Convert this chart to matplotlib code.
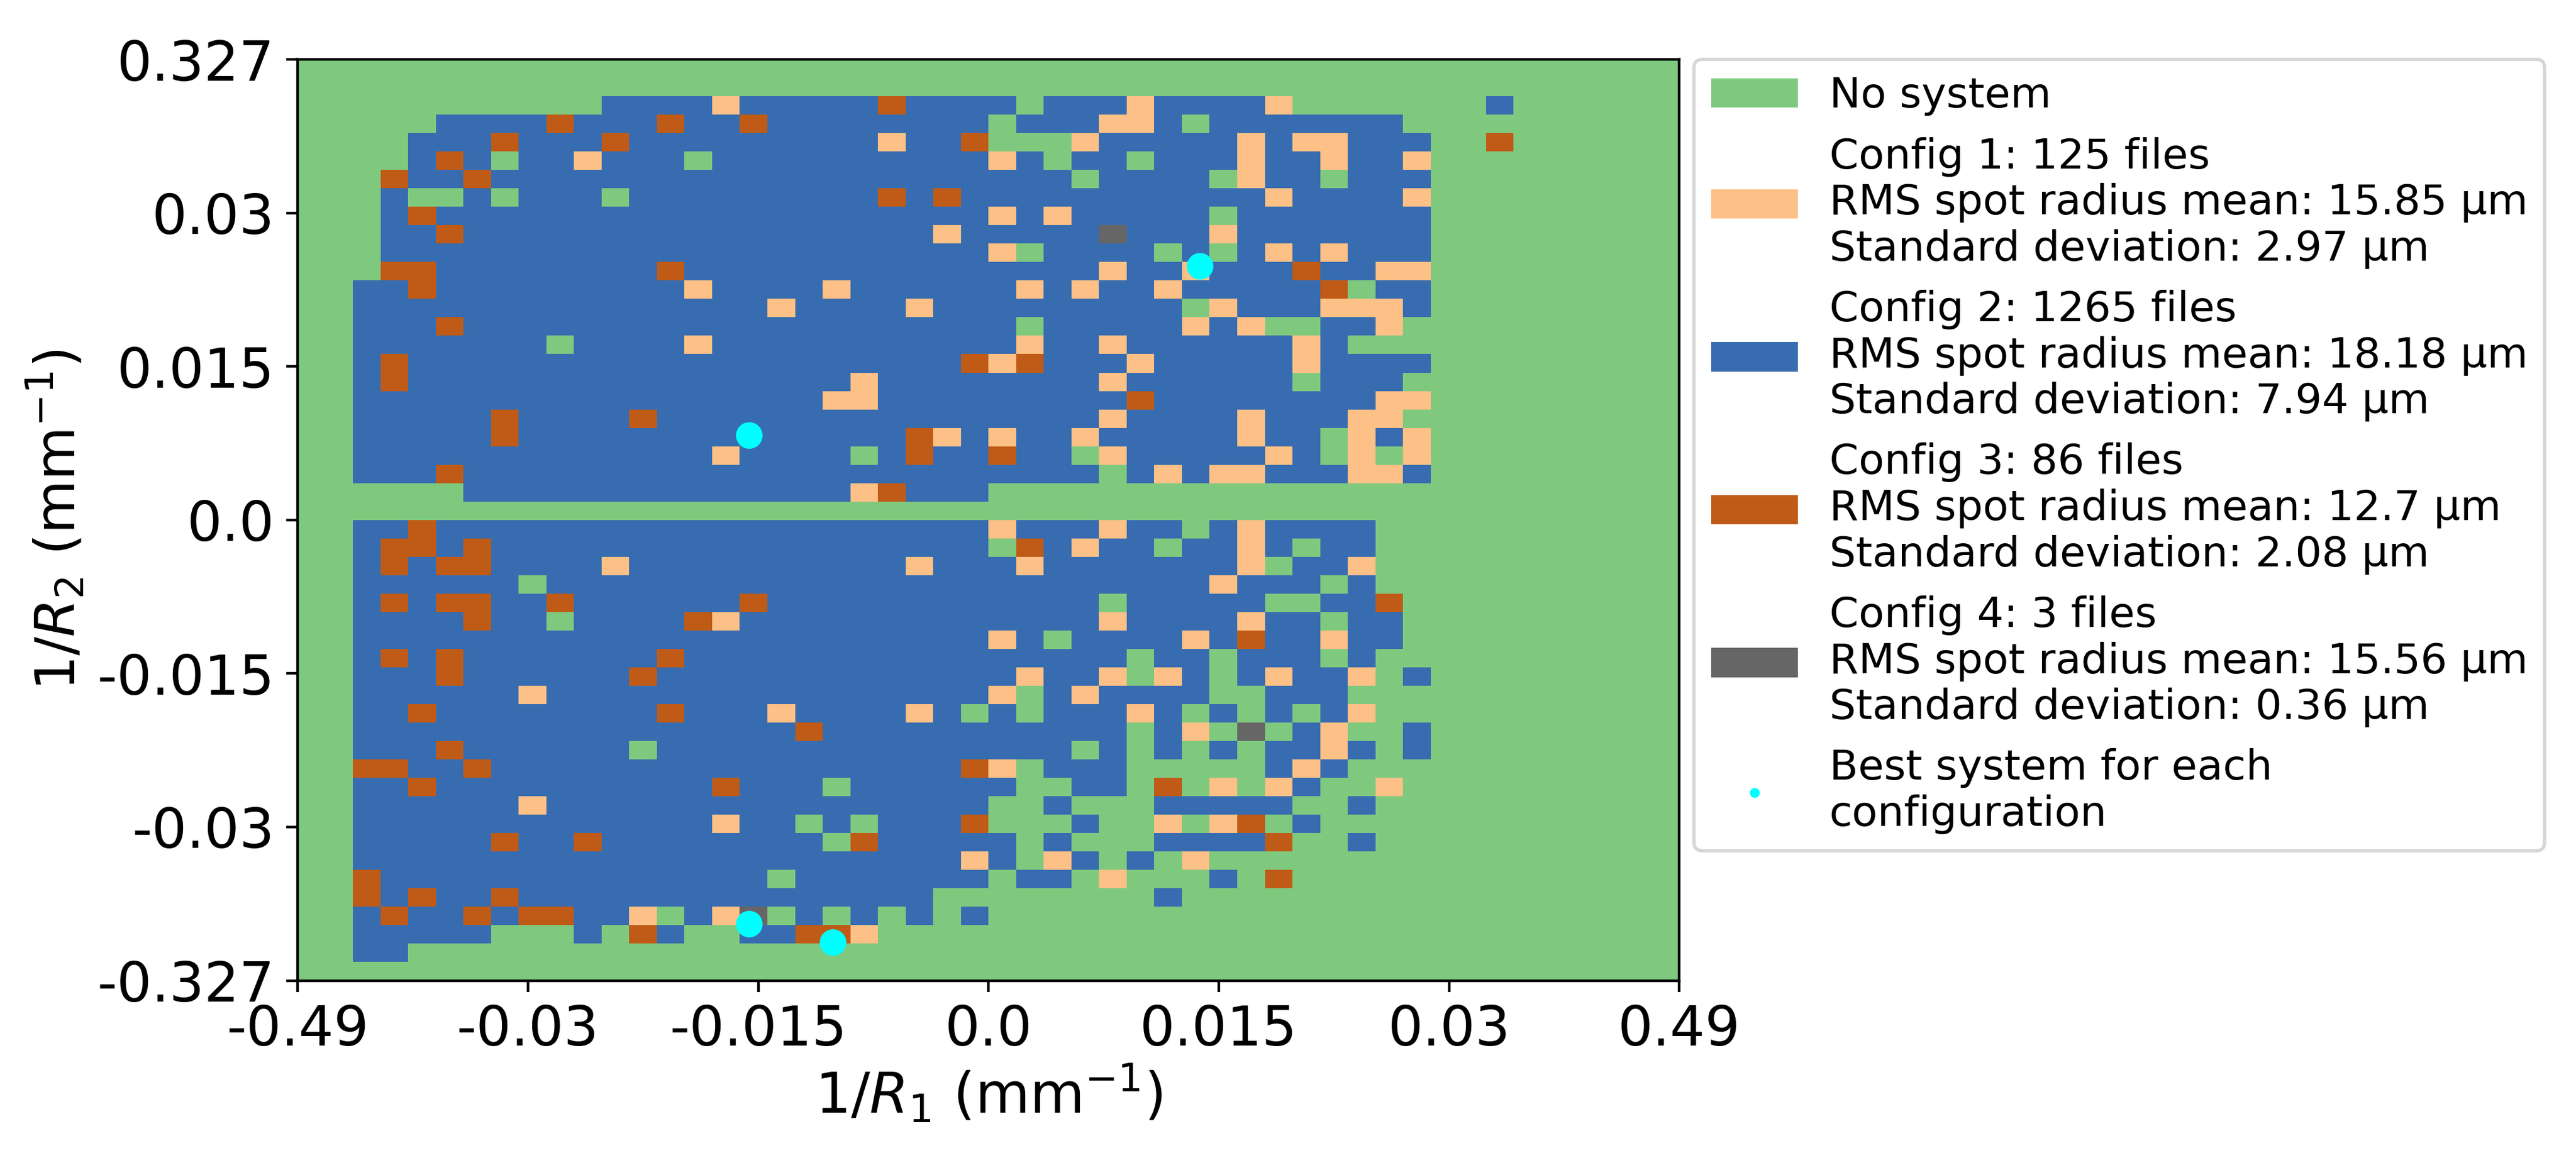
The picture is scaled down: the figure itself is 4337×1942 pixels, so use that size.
import numpy as np
import matplotlib
matplotlib.use("Agg")
import matplotlib.pyplot as plt
from matplotlib.colors import ListedColormap, BoundaryNorm
from matplotlib.patches import Patch
from matplotlib.lines import Line2D

N = 50
X_TICKS = ["-0.49", "-0.03", "-0.015", "0.0", "0.015", "0.03", "0.49"]
Y_TICKS = ["-0.327", "-0.03", "-0.015", "0.0", "0.015", "0.03", "0.327"]
COLORS = ["#7fc97f", "#fdc086", "#386cb0", "#bf5b17", "#666666"]
LABELS = [
    "No system",
    "Config 1: 125 files\nRMS spot radius mean: 15.85 µm\nStandard deviation: 2.97 µm",
    "Config 2: 1265 files\nRMS spot radius mean: 18.18 µm\nStandard deviation: 7.94 µm",
    "Config 3: 86 files\nRMS spot radius mean: 12.7 µm\nStandard deviation: 2.08 µm",
    "Config 4: 3 files\nRMS spot radius mean: 15.56 µm\nStandard deviation: 0.36 µm",
]
BEST_LABEL = "Best system for each\nconfiguration"

# Grid rows counted from the top, columns from the left
BLUE_SPANS = {
    2: [(11, 34), (43, 43)], 3: [(5, 39)], 4: [(4, 40)], 5: [(4, 40)], 6: [(3, 40)],
    7: [(3, 40)], 8: [(3, 40)], 9: [(3, 40)], 10: [(3, 40)], 11: [(3, 40)],
    12: [(2, 40)], 13: [(2, 40)], 14: [(2, 39)], 15: [(2, 37)], 16: [(2, 40)],
    17: [(2, 39)], 18: [(2, 40)], 19: [(2, 39)], 20: [(2, 40)], 21: [(2, 40)],
    22: [(2, 40)], 23: [(6, 24)], 25: [(2, 38)], 26: [(2, 38)], 27: [(2, 38)],
    28: [(2, 38)], 29: [(2, 39)], 30: [(2, 39)], 31: [(2, 39)], 32: [(2, 38)],
    33: [(2, 38), (40, 40)], 34: [(2, 37)], 35: [(2, 38)], 36: [(2, 37), (40, 40)],
    37: [(2, 38), (40, 40)], 38: [(2, 37)], 39: [(2, 39)], 40: [(2, 38)],
    41: [(2, 36)], 42: [(2, 38)], 43: [(2, 32)], 44: [(2, 35)],
    45: [(2, 22), (31, 31)], 46: [(2, 24)], 47: [(2, 20)], 48: [(2, 3)],
}
NO_SYSTEM_HOLES = {
    2: [26], 3: [25, 32], 4: [25, 26, 27], 5: [7, 14, 27, 30], 6: [28, 33, 37],
    7: [4, 5, 7, 11], 8: [33], 10: [26, 31, 33], 12: [38], 13: [32], 14: [26, 35, 36],
    15: [9], 17: [36], 20: [37], 21: [20, 28, 37, 39], 22: [29], 25: [32],
    26: [25, 31, 36], 27: [35], 28: [8, 37], 29: [29, 35, 36], 30: [9, 37], 31: [27],
    32: [30, 33, 37], 33: [30, 33], 34: [26, 33, 34], 35: [24, 26, 32, 34, 36],
    36: [30, 33, 35], 37: [12, 28, 30, 32, 34], 38: [26, 30, 31, 32, 33, 34],
    39: [19, 26, 27, 30, 32, 34, 37, 38], 40: [25, 26, 28, 29, 30, 36, 37],
    41: [18, 20, 25, 26, 27, 29, 30, 32, 35], 42: [19, 26, 28, 29, 30, 36, 37],
    43: [26, 29, 31], 44: [17, 25, 28, 30, 31, 32, 34], 46: [13, 17, 19, 21, 23],
    47: [7, 8, 9, 11, 14, 15],
}
CONFIG1 = {
    2: [15, 30, 35], 3: [29, 30], 4: [21, 28, 34, 36, 37], 5: [10, 25, 34, 37, 40],
    6: [34], 7: [35, 40], 8: [25, 27], 9: [23, 33], 10: [25, 35, 37], 11: [29, 32, 39, 40],
    12: [14, 19, 26, 28, 31], 13: [17, 22, 33, 37, 38, 39], 14: [32, 34, 39],
    15: [14, 26, 29, 36], 16: [25, 30, 36], 17: [20, 29], 18: [19, 20, 39, 40],
    19: [29, 34, 38, 39], 20: [23, 25, 28, 34, 38, 40], 21: [15, 29, 35, 38, 40],
    22: [31, 33, 34, 38, 39], 23: [20], 25: [25, 29, 34], 26: [28, 34],
    27: [11, 22, 26, 34, 38], 28: [33], 30: [15, 29, 34], 31: [25, 32, 37],
    33: [26, 29, 31, 35, 38], 34: [8, 25, 28], 35: [17, 22, 30, 38], 36: [32, 37],
    37: [37], 38: [25, 36], 39: [33, 35, 39], 40: [8], 41: [15, 31, 33],
    43: [24, 27, 32], 44: [29], 46: [12, 15], 47: [20],
}
CONFIG3 = {
    2: [21], 3: [9, 13, 16], 4: [7, 11, 24, 43], 5: [5], 6: [3, 6], 7: [21, 23], 8: [4],
    9: [5], 11: [3, 4, 13, 36], 12: [4, 37], 14: [5], 16: [3, 24, 26], 17: [3], 18: [30],
    19: [7, 12], 20: [7, 22], 21: [22, 25], 22: [5], 23: [21], 25: [4], 26: [3, 4, 6, 26],
    27: [3, 5, 6], 29: [3, 5, 6, 9, 16, 39], 30: [6, 14], 31: [34], 32: [3, 5, 13],
    33: [5, 12], 35: [4, 13], 36: [18], 37: [5], 38: [2, 3, 6, 24], 39: [4, 15, 31],
    41: [24, 34], 42: [7, 10, 20, 35], 44: [2, 35], 45: [2, 4, 7], 46: [3, 6, 8, 9],
    47: [12, 18, 19],
}
CONFIG4 = {9: [29], 36: [34], 46: [16]}

# Best systems, in grid units from the left and from the bottom
BEST_X = [32.64, 16.33, 16.33, 19.36]
BEST_Y = [38.8, 29.6, 3.07, 2.07]

grid = np.zeros((N, N), dtype=int)
for row, spans in BLUE_SPANS.items():
    for a, b in spans:
        grid[row, a:b + 1] = 2
for code, table in ((0, NO_SYSTEM_HOLES), (1, CONFIG1), (3, CONFIG3), (4, CONFIG4)):
    for row, cols in table.items():
        for c in cols:
            grid[row, c] = code

W, H = 4337, 1942
DPI = 400
fig = plt.figure(figsize=(W / DPI, H / DPI), dpi=DPI)
ax = fig.add_axes([501 / W, 1 - 1651.5 / H, 2326.5 / W, 1551.5 / H])

cmap = ListedColormap(COLORS)
norm = BoundaryNorm(np.arange(-0.5, 5.5), 5)
edges = np.arange(N + 1)
ax.pcolormesh(edges, edges, grid[::-1], cmap=cmap, norm=norm)
ax.scatter(BEST_X, BEST_Y, s=65, color="cyan", linewidths=0, zorder=3)

ax.set_xlim(0, N)
ax.set_ylim(0, N)
ax.set_xticks(np.linspace(0, N, 7))
ax.set_yticks(np.linspace(0, N, 7))
ax.set_xticklabels(X_TICKS, fontsize=16.7)
ax.set_yticklabels(Y_TICKS, fontsize=16.7)
ax.set_xlabel(r"$1/R_1$ (mm$^{-1}$)", fontsize=17, labelpad=2)
ax.set_ylabel(r"$1/R_2$ (mm$^{-1}$)", fontsize=16.7, labelpad=3)

handles = [Patch(facecolor=c, label=l) for c, l in zip(COLORS, LABELS)]
handles.append(Line2D([], [], linestyle="none", marker="o", color="cyan",
                      markersize=3, markeredgewidth=0, label=BEST_LABEL))
ax.legend(handles=handles, loc="upper left", bbox_to_anchor=(1.0107, 1.0),
          borderaxespad=0, fontsize=12.7, handlelength=2.08, handletextpad=0.74,
          labelspacing=0.5)

fig.savefig("out.png", dpi=DPI)
